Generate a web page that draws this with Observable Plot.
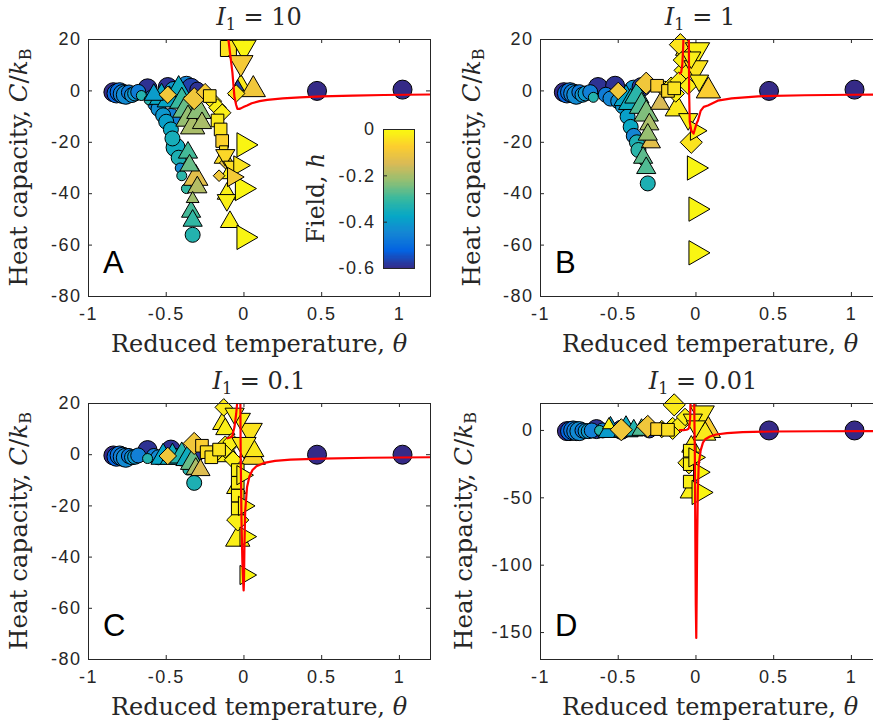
<!DOCTYPE html>
<html><head><meta charset="utf-8">
<script src="https://cdn.jsdelivr.net/npm/d3@7"></script>
<script src="https://cdn.jsdelivr.net/npm/@observablehq/plot@0.6"></script>
<style>
body{margin:0;background:#fff;}
#root{position:relative;width:873px;height:721px;overflow:hidden;background:#fff;}
#root > svg, #root > div{position:absolute;}
</style></head><body><div id="root"></div>
<script>
// ---------------- data ----------------
const xTicks = [-1, -0.5, 0, 0.5, 1];
const yTicksABC = [-80, -60, -40, -20, 0, 20];
const yTicksD = [-150, -100, -50, 0];
const fieldTicks = [-0.6, -0.4, -0.2, 0];
const titles = ["10", "1", "0.1", "0.01"];
const letters = ["A", "B", "C", "D"];
const parula = ["#352a87","#0363e1","#1485d4","#06a7c6","#38b99e","#92bf73","#d9ba56","#fcce2e","#f9fb0e"];

// rows: [theta, C/kB, field h, size class]
// Panel A (I1 = 10)
const A_circle = [[-0.84,-0.5,-0.60,3],[-0.82,-1.0,-0.52,3],[-0.80,-0.5,-0.50,3],[-0.78,-1.2,-0.46,3],[-0.76,-1.5,-0.44,3],[-0.74,-0.6,-0.48,2],[-0.72,-1.6,-0.43,2],[-0.70,-1.0,-0.41,2],[-0.68,-0.4,-0.47,2],[-0.66,-1.8,-0.33,1],[-0.62,1.0,-0.59,3],[-0.61,-3.5,-0.33,1],[-0.59,-2.5,-0.47,2],[-0.57,-5.0,-0.45,2],[-0.55,-7.0,-0.43,2],[-0.52,-9.5,-0.41,2],[-0.50,-12.0,-0.39,2],[-0.47,-10.5,-0.46,3],[-0.47,-15.0,-0.37,2],[-0.46,-18.5,-0.35,2],[-0.44,-22.0,-0.36,3],[-0.42,-26.0,-0.34,2],[-0.41,-30.0,-0.44,1],[-0.40,-33.0,-0.32,1],[-0.37,-38.0,-0.31,1],[-0.33,-56.0,-0.33,2],[-0.49,1.5,-0.59,3],[-0.45,0.0,-0.41,3],[-0.37,2.0,-0.45,3],[-0.34,1.2,-0.57,3],[-0.30,0.5,-0.59,2],[0.47,0.0,-0.60,3],[1.02,0.5,-0.60,3]];
const A_up = [[-0.58,-1.5,-0.40,2],[-0.53,-2.5,-0.37,3],[-0.48,-3.5,-0.38,3],[-0.42,0.5,-0.36,3],[-0.40,-4.0,-0.30,3],[-0.38,-7.5,-0.26,3],[-0.36,-11.0,-0.22,3],[-0.33,-14.0,-0.20,3],[-0.36,-24.0,-0.29,2],[-0.35,-29.0,-0.26,2],[-0.31,-34.0,-0.13,3],[-0.30,-37.5,-0.19,2],[-0.33,-42.0,-0.21,1],[-0.34,-47.0,-0.29,2],[-0.33,-50.5,-0.31,2],[-0.29,-8.0,-0.23,3],[-0.27,-12.5,-0.20,2],[-0.04,1.5,-0.57,1],[-0.02,1.0,-0.03,3],[0.06,0.5,-0.10,3],[-0.09,-32.0,-0.02,2],[-0.11,-40.0,-0.02,2],[-0.09,-51.0,-0.02,2],[-0.13,-26.0,-0.05,2]];
const A_diamond = [[-0.49,-1.5,-0.10,2],[-0.32,-3.0,-0.10,3],[-0.25,-0.5,-0.09,2],[-0.20,-4.0,-0.03,2],[-0.17,-6.5,-0.02,2],[-0.14,-8.5,-0.02,2],[-0.12,-28.0,-0.12,1],[-0.16,-33.0,-0.10,1],[-0.05,-1.0,-0.04,2]];
const A_square = [[-0.22,-2.0,-0.05,2],[-0.17,-11.5,-0.03,2],[-0.15,-15.0,-0.04,2],[-0.14,-19.5,-0.07,2],[-0.10,16.5,-0.04,3],[-0.13,-23.0,-0.05,1]];
const A_down = [[0.00,17.0,-0.01,3],[-0.02,11.0,-0.09,3],[-0.12,-25.0,-0.06,2],[-0.11,-42.5,-0.02,2],[-0.07,-29.5,-0.05,2]];
const A_right = [[0.00,-21.0,-0.01,3],[-0.03,-29.0,-0.04,2],[-0.01,-38.0,-0.01,3],[0.00,-57.0,-0.01,3],[-0.07,-33.5,-0.09,2]];
const A_curveTheta = [-0.10,-0.09,-0.08,-0.074,-0.061,-0.05,-0.042,-0.03,-0.02,0.0,0.02,0.05,0.1,0.15,0.25,0.36,0.5,0.7,0.9,1.2];
const A_curveC = [20,15,10,7,-2.5,-5.5,-7.0,-7.0,-6.8,-6.2,-5.7,-4.8,-4.0,-3.5,-2.9,-2.5,-2.1,-1.8,-1.6,-1.4];

// Panel B (I1 = 1)
const B_circle = [[-0.85,-0.5,-0.60,3],[-0.83,-1.0,-0.52,3],[-0.81,-0.5,-0.49,3],[-0.79,-1.0,-0.46,3],[-0.77,-1.5,-0.44,3],[-0.75,-0.5,-0.48,2],[-0.73,-1.5,-0.42,2],[-0.71,-1.0,-0.41,2],[-0.68,-0.5,-0.46,2],[-0.66,-2.5,-0.33,1],[-0.63,1.5,-0.59,3],[-0.52,2.0,-0.59,3],[-0.58,-1.5,-0.47,2],[-0.55,-3.0,-0.45,2],[-0.50,-4.0,-0.43,2],[-0.47,-6.0,-0.41,2],[-0.44,-10.0,-0.39,2],[-0.42,-14.0,-0.37,2],[-0.40,-17.5,-0.45,2],[-0.38,-20.0,-0.34,2],[-0.37,-23.0,-0.32,2],[-0.34,-27.0,-0.31,1],[-0.31,-36.0,-0.34,2],[-0.40,0.5,-0.42,3],[-0.35,1.5,-0.58,3],[0.47,0.0,-0.60,3],[1.02,0.5,-0.60,3]];
const B_up = [[-0.45,-3.0,-0.38,3],[-0.42,-4.5,-0.36,3],[-0.38,-2.0,-0.32,3],[-0.35,-6.0,-0.28,3],[-0.32,-9.0,-0.24,3],[-0.30,-13.0,-0.20,2],[-0.29,-20.0,-0.13,2],[-0.31,-17.0,-0.22,2],[-0.34,-26.0,-0.27,2],[-0.32,-30.0,-0.28,2],[-0.23,-5.0,-0.15,2],[-0.12,-7.0,-0.03,3],[0.08,0.0,-0.08,3],[-0.07,16.0,-0.03,2]];
const B_diamond = [[-0.50,0.0,-0.10,2],[-0.32,3.0,-0.10,3],[-0.20,0.5,-0.05,2],[-0.16,2.0,-0.03,2],[-0.13,-1.0,-0.02,2],[-0.10,18.0,-0.04,3],[-0.09,12.0,-0.02,2],[-0.07,8.0,-0.02,3],[-0.11,4.0,-0.03,2],[-0.03,-20.0,-0.04,3],[-0.05,2.0,-0.02,2]];
const B_square = [[-0.25,2.0,-0.08,2],[-0.18,0.0,-0.06,2],[-0.14,1.0,-0.04,2]];
const B_down = [[0.01,16.0,-0.02,3],[0.00,9.0,-0.04,3],[-0.03,13.0,-0.02,2],[0.02,4.0,-0.03,2],[-0.05,-11.0,-0.02,2]];
const B_right = [[0.00,-15.5,-0.02,2],[-0.01,-30.0,-0.01,3],[0.00,-46.0,-0.01,3],[0.00,-63.0,-0.01,3]];
const B_curveTheta = [-0.103,-0.095,-0.088,-0.083,-0.078,-0.06,-0.046,-0.044,-0.04,-0.03,-0.015,-0.005,0.005,0.013,0.03,0.05,0.077,0.14,0.23,0.4,0.7,1.0,1.2];
const B_curveC = [6.8,7.2,10,16,25,60,25,0,-12,-15.5,-16.6,-14.5,-12.5,-11.5,-7.8,-6.2,-5.7,-3.8,-2.9,-2.1,-1.7,-1.5,-1.4];

// Panel C (I1 = 0.1)
const C_circle = [[-0.84,-0.3,-0.60,3],[-0.82,-0.8,-0.52,3],[-0.80,-0.3,-0.49,3],[-0.78,-0.8,-0.46,3],[-0.76,-1.2,-0.44,3],[-0.74,-0.5,-0.48,2],[-0.72,-1.0,-0.42,2],[-0.70,-0.8,-0.41,2],[-0.68,-0.3,-0.46,2],[-0.62,1.8,-0.59,3],[-0.62,-1.5,-0.33,1],[-0.58,-0.5,-0.46,2],[-0.55,-1.0,-0.44,2],[-0.47,2.0,-0.59,3],[-0.44,-0.5,-0.42,2],[-0.40,-1.5,-0.40,2],[-0.36,-6.0,-0.33,1],[-0.32,-11.0,-0.34,2],[-0.30,0.5,-0.58,2],[0.47,0.0,-0.60,3],[1.02,0.0,-0.60,3]];
const C_up = [[-0.52,-1.0,-0.38,3],[-0.46,-1.0,-0.36,3],[-0.40,-0.5,-0.33,3],[-0.36,-1.5,-0.36,3],[-0.33,-3.0,-0.26,3],[-0.31,-5.5,-0.20,2],[-0.28,-6.0,-0.14,2],[-0.14,12.0,-0.03,2],[-0.12,10.0,-0.02,2],[0.06,-1.0,-0.06,3],[0.05,2.0,-0.03,3],[-0.04,-33.0,-0.02,3],[-0.05,-13.0,-0.02,2],[-0.10,0.0,-0.02,3]];
const C_diamond = [[-0.49,-0.5,-0.10,2],[-0.32,4.4,-0.10,3],[-0.18,0.5,-0.03,2],[-0.12,3.0,-0.02,3],[-0.08,5.0,-0.02,2],[-0.13,18.5,-0.03,2],[-0.04,-25.5,-0.02,3],[-0.07,-2.0,-0.02,2]];
const C_square = [[-0.27,3.5,-0.08,2],[-0.24,1.0,-0.05,2],[-0.21,-1.0,-0.04,2],[-0.16,2.0,-0.04,2],[-0.04,-6.0,-0.02,2],[-0.04,-11.0,-0.02,2],[-0.04,-16.0,-0.02,2],[-0.04,-21.0,-0.02,2]];
const C_down = [[0.04,9.5,-0.04,3],[-0.02,14.0,-0.02,2],[0.00,4.0,-0.03,3],[-0.06,16.0,-0.02,2]];
const C_right = [[0.00,-20.0,-0.02,2],[0.01,-32.0,-0.01,2],[0.01,-47.0,-0.01,2],[-0.01,-8.0,-0.02,2]];
const C_curveTheta = [-0.105,-0.09,-0.076,-0.061,-0.05,-0.044,-0.035,-0.024,-0.021,-0.016,-0.01,-0.005,-0.002,0.0,0.003,0.008,0.02,0.035,0.055,0.08,0.13,0.2,0.3,0.5,0.8,1.2];
const C_curveC = [6.4,6.7,7.1,10.8,16,20,40,30,0,-25,-42,-50,-53,-50,-36,-22,-12.6,-8.5,-6.0,-4.5,-3.2,-2.4,-1.9,-1.5,-1.2,-1.0];

// Panel D (I1 = 0.01)
const D_circle = [[-0.83,-0.5,-0.60,3],[-0.81,-0.5,-0.52,3],[-0.79,0.0,-0.49,3],[-0.77,-0.5,-0.46,3],[-0.75,-0.5,-0.44,3],[-0.73,0.0,-0.48,2],[-0.71,-0.5,-0.42,2],[-0.69,-0.5,-0.41,2],[-0.67,0.0,-0.46,2],[-0.64,1.0,-0.59,3],[-0.62,0.0,-0.33,1],[-0.60,0.0,-0.46,2],[-0.48,0.5,-0.59,3],[-0.30,0.0,-0.58,2],[0.47,0.0,-0.60,3],[1.02,0.0,-0.60,3]];
const D_up = [[-0.55,0.0,-0.40,3],[-0.45,0.5,-0.36,3],[-0.40,0.0,-0.33,2],[-0.35,0.5,-0.28,2],[-0.56,4.0,-0.02,1],[0.08,0.0,-0.08,3],[0.05,-2.0,-0.03,3],[-0.04,-46.0,-0.02,2],[-0.03,-12.0,-0.02,2]];
const D_diamond = [[-0.48,0.5,-0.10,3],[-0.31,3.0,-0.10,3],[-0.22,1.0,-0.04,2],[-0.14,19.0,-0.03,3],[-0.15,1.5,-0.02,3],[-0.10,5.0,-0.03,2],[-0.045,-24.0,-0.03,3],[-0.07,10.0,-0.02,2]];
const D_square = [[-0.25,1.0,-0.07,2],[-0.18,0.5,-0.05,2],[-0.04,-15.0,-0.02,2],[-0.04,-25.0,-0.02,2],[-0.04,-38.0,-0.02,2]];
const D_down = [[0.04,13.0,-0.03,3],[-0.02,8.0,-0.02,2],[0.00,3.0,-0.02,2]];
const D_right = [[0.02,-31.0,-0.01,2],[0.02,-46.0,-0.01,3],[-0.01,-20.0,-0.02,2]];
const D_curveTheta = [-0.104,-0.08,-0.06,-0.05,-0.045,-0.04,-0.037,-0.034,-0.025,-0.012,-0.007,-0.004,-0.001,0.002,0.005,0.008,0.012,0.018,0.03,0.045,0.06,0.09,0.13,0.2,0.3,0.5,0.8,1.2];
const D_curveC = [0.2,0.3,0.5,1,2,5,10,25,60,30,-20,-80,-130,-154,-120,-80,-45,-25,-15,-9,-6.5,-4.5,-3,-2,-1.2,-0.8,-0.6,-0.5];

// ---------------- drawing ----------------
const fmt = d => String(d);
const colorOpts = {type: "linear", domain: parula.map((_, i) => -0.6 + 0.6 * i / (parula.length - 1)), range: parula, interpolate: "rgb", clamp: true};
const sizeR = {1: 5, 2: 7.5, 3: 9.5};
const shapeStyles = [
  ["circle", "circle", 0, 1.0],
  ["up", "triangle", 0, 0.95],
  ["diamond", "diamond2", 0, 1.05],
  ["square", "square", 0, 0.95],
  ["down", "triangle", 180, 0.95],
  ["right", "triangle", 90, 0.95]
];
const INK = "#262626";
const tickFont = {fontFamily: "'Liberation Sans', Arial, sans-serif", fontSize: "18px", letterSpacing: "1.5px", color: INK, background: "transparent", overflow: "visible"};
const root = document.getElementById("root");

function makePanel(p) {
  const fw = 342, fh = p.fh, mL = 60, mR = 2, mT = 2, mB = 34;
  const dots = shapeStyles.map(([key, symbol, rotate, k]) =>
    Plot.dot(p.groups[key], {x: d => d[0], y: d => d[1], fill: d => d[2], r: d => sizeR[d[3]] * k,
      symbol, rotate, stroke: "#000", strokeWidth: 1}));
  const curve = p.curveTheta.map((t, i) => [t, p.curveC[i]]);
  const svg = Plot.plot({
    width: mL + fw + mR, height: mT + fh + mB,
    marginLeft: mL, marginRight: mR, marginTop: mT, marginBottom: mB,
    x: {domain: [-1, 1.2], label: null},
    y: {domain: p.yDomain, label: null},
    color: colorOpts,
    r: {type: "identity"},
    style: tickFont,
    marks: [
      Plot.tickX(xTicks, {x: d => d, insetTop: fh - 4, stroke: INK}),
      Plot.tickX(xTicks, {x: d => d, insetBottom: fh - 4, stroke: INK}),
      Plot.tickY(p.yTicks, {y: d => d, insetRight: fw - 4, stroke: INK}),
      Plot.tickY(p.yTicks, {y: d => d, insetLeft: fw - 4, stroke: INK}),
      Plot.axisX({ticks: xTicks, tickSize: 0, tickPadding: 11, tickFormat: fmt, label: null}),
      Plot.axisY({ticks: p.yTicks, tickSize: 0, tickPadding: 7, tickFormat: fmt, label: null}),
      ...dots,
      Plot.line(curve, {x: d => d[0], y: d => d[1], stroke: "#ff0000", strokeWidth: 2.2, clip: true}),
      Plot.frame({stroke: INK, strokeWidth: 1})
    ]
  });
  svg.style.left = (p.left - mL) + "px";
  svg.style.top = (p.top - mT) + "px";
  root.appendChild(svg);
}

const panels = [
  {left: 88, top: 39, fh: 257, yDomain: [-80, 20], yTicks: yTicksABC, curveTheta: A_curveTheta, curveC: A_curveC,
   groups: {circle: A_circle, up: A_up, diamond: A_diamond, square: A_square, down: A_down, right: A_right}},
  {left: 540, top: 39, fh: 257, yDomain: [-80, 20], yTicks: yTicksABC, curveTheta: B_curveTheta, curveC: B_curveC,
   groups: {circle: B_circle, up: B_up, diamond: B_diamond, square: B_square, down: B_down, right: B_right}},
  {left: 88, top: 403, fh: 256, yDomain: [-80, 20], yTicks: yTicksABC, curveTheta: C_curveTheta, curveC: C_curveC,
   groups: {circle: C_circle, up: C_up, diamond: C_diamond, square: C_square, down: C_down, right: C_right}},
  {left: 540, top: 403, fh: 256, yDomain: [-170, 20], yTicks: yTicksD, curveTheta: D_curveTheta, curveC: D_curveC,
   groups: {circle: D_circle, up: D_up, diamond: D_diamond, square: D_square, down: D_down, right: D_right}}
];
panels.forEach(makePanel);

// colorbar (inside panel A)
{
  const cbSteps = d3.range(-0.6, 0, 0.005);
  const svg = Plot.plot({
    width: 86, height: 143, marginLeft: 53, marginRight: 2, marginTop: 2, marginBottom: 2,
    x: {domain: [0, 1], axis: null},
    y: {domain: [-0.6, 0], label: null},
    color: colorOpts,
    style: tickFont,
    marks: [
      Plot.rect(cbSteps, {x1: 0, x2: 1, y1: d => d, y2: d => d + 0.0062, fill: d => d + 0.0025, shapeRendering: "crispEdges"}),
      Plot.tickY(fieldTicks, {y: d => d, insetRight: 27, stroke: INK}),
      Plot.axisY({ticks: fieldTicks, tickSize: 0, tickPadding: 8, tickFormat: fmt, label: null}),
      Plot.frame({stroke: INK, strokeWidth: 1})
    ]
  });
  svg.style.left = "330px";
  svg.style.top = "127px";
  root.appendChild(svg);
}

// text overlay
{
  const serif = "font-family=\"'DejaVu Serif', 'Liberation Serif', serif\"";
  const geo = [
    {tx: 259, cx: 259, top: 39, bottom: 296, ylx: 27},
    {tx: 700, cx: 710, top: 39, bottom: 296, ylx: 480},
    {tx: 259, cx: 259, top: 403, bottom: 659, ylx: 27},
    {tx: 703, cx: 710, top: 403, bottom: 659, ylx: 472}
  ];
  const lefts = [88, 540, 88, 540];
  let s = `<svg xmlns="http://www.w3.org/2000/svg" width="873" height="721" style="left:0;top:0;pointer-events:none" fill="${INK}">`;
  geo.forEach((g, i) => {
    const cy = (g.top + g.bottom) / 2;
    s += `<text x="${g.tx}" y="${g.top - 14}" text-anchor="middle" ${serif} font-size="24"><tspan font-style="italic">I</tspan><tspan font-size="16" dy="5">1</tspan><tspan dy="-5"> = ${titles[i]}</tspan></text>`;
    s += `<text x="${g.cx}" y="${g.bottom + 56}" text-anchor="middle" ${serif} font-size="24">Reduced temperature, <tspan font-style="italic">θ</tspan></text>`;
    s += `<text transform="translate(${g.ylx},${cy}) rotate(-90)" text-anchor="middle" ${serif} font-size="24.5">Heat capacity, <tspan font-style="italic">C</tspan>/<tspan font-style="italic">k</tspan><tspan font-size="16" dy="4">B</tspan></text>`;
    s += `<text x="${lefts[i] + 15}" y="${g.bottom - 23}" font-family="'Liberation Sans', Arial, sans-serif" font-size="31" fill="#000">${letters[i]}</text>`;
  });
  s += `<text transform="translate(324,198) rotate(-90)" text-anchor="middle" ${serif} font-size="23.5">Field, <tspan font-style="italic">h</tspan></text>`;
  s += `</svg>`;
  root.insertAdjacentHTML("beforeend", s);
}
</script></body></html>
